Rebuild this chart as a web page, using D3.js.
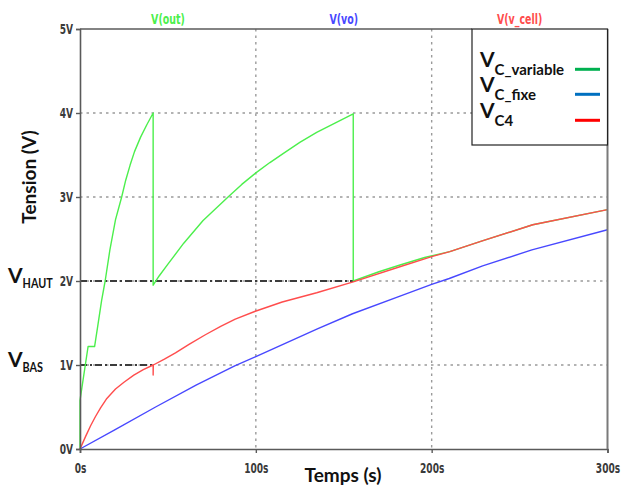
<!DOCTYPE html>
<html>
<head>
<meta charset="utf-8">
<script src="https://cdn.jsdelivr.net/npm/d3@7"></script>
<style>
  html, body { margin: 0; padding: 0; background: #fff; }
  svg { display: block; }
  .tick text { font-family: "DejaVu Sans Condensed", "DejaVu Sans", sans-serif; font-weight: bold; font-size: 14px; fill: #3a3a3a; }
</style>
</head>
<body>
<svg id="chart" width="621" height="491"></svg>
<script>
// ---------- data ----------
const seriesNames = ["V(out)", "V(vo)", "V(v_cell)"];
const seriesColors = ["#4cef4c", "#4848ff", "#ff4d4d"];

// V(out) – green (V_C_variable)
const timeOut = [0, 0, 4.6, 8.3, 10, 12.3, 14.3, 17, 20.2, 23.7, 26, 28.5, 31, 34.4, 38, 41.6,
                 41.6, 45, 50, 59, 70, 84.2, 92, 100.2, 108, 115.7, 125, 134.6, 145, 155.4,
                 155.4, 170, 182, 196, 210.3, 229.2, 257.5, 300];
const vOut    = [0, 0.58, 1.22, 1.22, 1.45, 1.77, 2.0, 2.37, 2.73, 3.0, 3.2, 3.38, 3.54, 3.71, 3.86, 4.0,
                 1.95, 2.06, 2.20, 2.45, 2.72, 3.0, 3.15, 3.29, 3.41, 3.52, 3.65, 3.77, 3.88, 3.99,
                 2.0, 2.11, 2.19, 2.28, 2.35, 2.48, 2.67, 2.85];

// V(vo) – blue (V_C_fixe)
const timeVo = [0, 20, 43, 66, 88, 100, 135, 155, 182, 200, 210, 229, 257, 300];
const vVo    = [0, 0.23, 0.50, 0.76, 0.99, 1.10, 1.43, 1.61, 1.82, 1.96, 2.03, 2.18, 2.37, 2.61];

// V(v_cell) – red (V_C4)
const timeCell = [0, 1.5, 3.2, 6.1, 8.9, 11.7, 15, 20.2, 25, 30.6, 36, 41.6, 41.6, 41.7,
                  48, 54.3, 62, 71.3, 80, 88.3, 99.7, 115, 134.6, 155.4, 181.9, 200, 210.3,
                  229.2, 257.5, 300];
const vCell    = [0, 0.07, 0.15, 0.28, 0.39, 0.49, 0.595, 0.715, 0.795, 0.88, 0.945, 1.0, 0.88, 1.0,
                  1.07, 1.145, 1.245, 1.36, 1.46, 1.545, 1.64, 1.75, 1.86, 1.99, 2.17, 2.29, 2.35,
                  2.48, 2.67, 2.85];

// threshold markers (V_BAS, V_HAUT)
const thresholdLevels = [1, 2];
const thresholdEnds = [41.6, 155.4];
const thresholdNames = ["BAS", "HAUT"];

// axes
const yTicks = [0, 1, 2, 3, 4, 5];
const yTickLabels = ["0V", "1V", "2V", "3V", "4V", "5V"];
const xTicks = [0, 100, 200, 300];
const xTickLabels = ["0s", "100s", "200s", "300s"];
const yGrid = [1, 2, 3, 4];
const xGrid = [100, 200];

// legend
const legendSubs = ["C_variable", "C_fixe", "C4"];
const legendColors = ["#00b050", "#0070c0", "#ff0000"];

// ---------- layout ----------
const svg = d3.select("#chart");
const L = 80, R = 607.5, T = 29, B = 449;
const x = d3.scaleLinear().domain([0, 300]).range([L, R]);
const y = d3.scaleLinear().domain([0, 5]).range([B, T]);

function squeeze(sel, f) {
  sel.each(function () {
    const w = this.getComputedTextLength();
    d3.select(this).attr("textLength", w * f).attr("lengthAdjust", "spacingAndGlyphs");
  });
}

// gridlines
svg.append("g").selectAll("line").data(yGrid).join("line")
  .attr("x1", L).attr("x2", R).attr("y1", d => y(d)).attr("y2", d => y(d))
  .attr("stroke", "#9a9a9a").attr("stroke-width", 1.4).attr("stroke-dasharray", "2.5,4");
svg.append("g").selectAll("line").data(xGrid).join("line")
  .attr("y1", T).attr("y2", B).attr("x1", d => x(d)).attr("x2", d => x(d))
  .attr("stroke", "#9a9a9a").attr("stroke-width", 1.4).attr("stroke-dasharray", "2.5,4");

// threshold dash-dot lines
svg.append("g").selectAll("line").data(thresholdLevels).join("line")
  .attr("x1", x(0)).attr("x2", (d, i) => x(thresholdEnds[i]))
  .attr("y1", d => y(d)).attr("y2", d => y(d))
  .attr("stroke", "#3c3c3c").attr("stroke-width", 2).attr("stroke-dasharray", "7,3,2,3");

// series
const line = d3.line().x(d => x(d[0])).y(d => y(d[1]));
const series = [
  d3.zip(timeOut, vOut),
  d3.zip(timeVo, vVo),
  d3.zip(timeCell, vCell)
];
svg.append("g").selectAll("path").data(series).join("path")
  .attr("d", line).attr("fill", "none")
  .attr("stroke", (d, i) => seriesColors[i]).attr("stroke-width", 1.4)
  .attr("stroke-linejoin", "round");

// axes
const yAxis = d3.axisLeft(y).tickValues(yTicks).tickFormat((d, i) => yTickLabels[i]).tickSize(4).tickPadding(3);
const gy = svg.append("g").attr("transform", `translate(${L},0)`).call(yAxis);
const xAxis = d3.axisBottom(x).tickValues(xTicks).tickFormat((d, i) => xTickLabels[i]).tickSize(4).tickPadding(10);
const gx = svg.append("g").attr("transform", `translate(0,${B})`).call(xAxis);
[gy, gx].forEach(g => {
  g.select(".domain").attr("stroke", "#5a5a5a").attr("stroke-width", 1.6);
  g.selectAll(".tick line").attr("stroke", "#5a5a5a").attr("stroke-width", 1.4);
  squeeze(g.selectAll(".tick text"), 0.72);
});

// frame top / right
svg.append("line").attr("x1", L).attr("x2", 472).attr("y1", T).attr("y2", T)
  .attr("stroke", "#5a5a5a").attr("stroke-width", 1.4);
svg.append("line").attr("x1", R).attr("x2", R).attr("y1", T).attr("y2", B)
  .attr("stroke", "#7a7a7a").attr("stroke-width", 2);

// series names on top
const topNames = svg.append("g").selectAll("text").data(seriesNames).join("text")
  .attr("x", (d, i) => L + (R - L) * (i + 0.5) / 3)
  .attr("y", 24)
  .attr("text-anchor", "middle")
  .attr("font-family", "'DejaVu Sans Condensed', 'DejaVu Sans', sans-serif")
  .attr("font-weight", "bold").attr("font-size", 14)
  .attr("fill", (d, i) => seriesColors[i])
  .text(d => d);
squeeze(topNames, 0.75);

// axis titles
const titleFont = "Lato, 'Open Sans', sans-serif";
svg.append("text").attr("transform", "translate(36,177) rotate(-90)")
  .attr("text-anchor", "middle").attr("font-family", titleFont)
  .attr("font-weight", "bold").attr("font-size", 19).attr("fill", "#111")
  .text("Tension (V)");
svg.append("text").attr("x", 343).attr("y", 482)
  .attr("text-anchor", "middle").attr("font-family", titleFont)
  .attr("font-weight", "bold").attr("font-size", 19).attr("fill", "#111")
  .text("Temps (s)");

// threshold labels
const thr = svg.append("g").selectAll("text").data(thresholdLevels).join("text")
  .attr("x", 8).attr("y", d => y(d) + 2)
  .attr("font-family", titleFont).attr("font-weight", "bold").attr("fill", "#111");
thr.append("tspan").attr("font-size", 21).text("V");
const thrSub = thr.append("tspan").attr("font-size", 13.5).attr("dy", 5).text((d, i) => thresholdNames[i]);
squeeze(thrSub, 0.8);

// legend box
const lg = svg.append("g");
lg.append("rect").attr("x", 472).attr("y", 29).attr("width", 135.5).attr("height", 116)
  .attr("fill", "#fff").attr("stroke", "#222").attr("stroke-width", 1.2);
const ent = lg.selectAll("g.ent").data(legendSubs).join("g").attr("class", "ent")
  .attr("transform", (d, i) => `translate(0,${[67, 92, 118][i]})`);
const lt = ent.append("text").attr("x", 480).attr("y", 0)
  .attr("font-family", titleFont).attr("font-weight", "bold").attr("fill", "#111");
lt.append("tspan").attr("font-size", 21).text("V");
lt.append("tspan").attr("font-size", 15).attr("dy", 8).text(d => d);
ent.append("line").attr("x1", 575).attr("x2", 600).attr("y1", 2.3).attr("y2", 2.3)
  .attr("stroke", (d, i) => legendColors[i]).attr("stroke-width", 3);
</script>
</body>
</html>
